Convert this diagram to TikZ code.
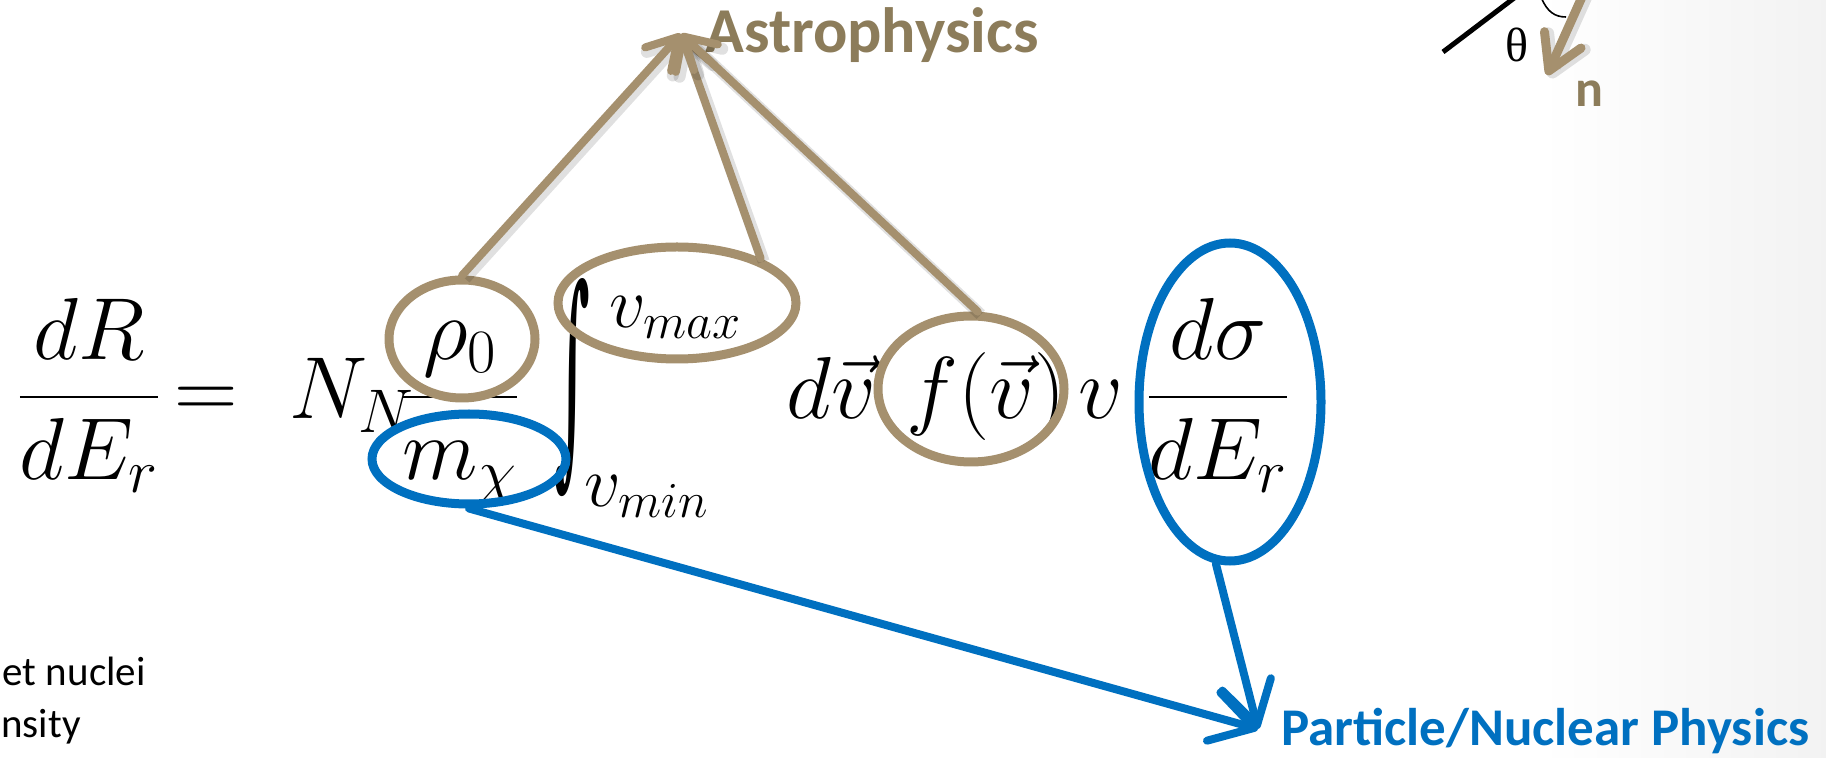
\documentclass[tikz,border=0pt]{standalone}
\usepackage{fix-cm}
\usepackage{exscale}
\usepackage{graphicx}
\usepackage{fontspec}
\usetikzlibrary{arrows.meta,shapes.geometric}
\newfontfamily\labelfont{Carlito}
\newfontfamily\greekfont{Liberation Serif}
\newfontfamily\intfont{DejaVu Serif}
\definecolor{tan2}{RGB}{165,144,110}
\definecolor{tantext}{RGB}{140,124,90}
\definecolor{blue2}{RGB}{0,112,192}
\newcommand{\eqsize}{\fontsize{44}{48}\selectfont}
\tikzset{
  eqnode/.style={inner sep=0pt, anchor=base, font=\eqsize},
  limitnode/.style={inner sep=0pt, anchor=base west, font=\fontsize{36}{40}\selectfont},
  tanring/.style={ellipse, draw=tan2, line width=4.5pt, inner sep=0pt},
  bluering/.style={ellipse, draw=blue2, line width=4.5pt, inner sep=0pt},
  softshadow/.style={preaction={draw=black, opacity=0.12, line width=6pt,
    transform canvas={shift={(1.5pt,-1.5pt)}}}},
  astroflow/.style={draw=tan2, line width=4pt, line cap=round, softshadow,
    -{Straight Barb[length=15pt,width=17.5pt,round]}},
  particleflow/.style={draw=blue2, line width=4pt, line cap=round,
    -{Straight Barb[length=21pt,width=25pt,round]}},
  fieldlabel/.style={inner sep=0pt, font=\labelfont\bfseries}
}

\begin{document}
\begin{tikzpicture}[x=0.5pt, y=-0.5pt]
\useasboundingbox (0,0) rectangle (1826,758);
\shade[left color=white, right color=black!5] (1540,0) rectangle (1826,758);

% the rate formula
\node[eqnode] (lhs) at (89,419) {$\displaystyle\frac{dR}{dE_r}$};
\node[eqnode] (eqsign) at (206,419) {$=$};
\node[eqnode, anchor=base west] (nn) at (289,419) {$N_N$};
\node[eqnode] (ratio) at (460,419) {$\displaystyle\frac{\rho_0}{m_\chi}$};
\node[eqnode, anchor=center] (integ) at (572,388) {\resizebox{18pt}{88pt}{\intfont ∫}};
\node[limitnode] (vmax) at (609,328) {$v_{max}$};
\node[limitnode] (vmin) at (584,507) {$v_{min}$};
\node[eqnode, anchor=base west] (dv) at (786,419) {$d\vec{v}$};
\node[eqnode, anchor=base west] (fv) at (906,419) {$f(\vec{v})$};
\node[eqnode, anchor=base west] (vel) at (1078,419) {$v$};
\node[eqnode] (dsig) at (1218,419) {$\displaystyle\frac{d\sigma}{dE_r}$};

% rings
\node[tanring, minimum width=73pt, minimum height=59pt] (rhoring) at (462,339) {};
\node[tanring, minimum width=119pt, minimum height=56pt] (vmaxring) at (677,303) {};
\node[tanring, minimum width=93pt, minimum height=73pt] (fvring) at (971,389) {};
\node[bluering, minimum width=97pt, minimum height=45pt] (mchiring) at (469,459) {};
\node[bluering, minimum width=91pt, minimum height=159pt] (dsigring) at (1230,402) {};

% labels
\node[fieldlabel, anchor=base west, text=tantext, font=\labelfont\bfseries\fontsize{32}{36}\selectfont]
  (astro) at (705,53) {Astrophysics};
\node[fieldlabel, anchor=base west, text=blue2, font=\labelfont\bfseries\fontsize{26.5}{30}\selectfont]
  (particle) at (1281,745) {Particle/Nuclear Physics};
\coordinate (astrotip) at (681,34);
\coordinate (particletip) at (1258,729);

\draw[astroflow] (rhoring.north) -- (astrotip);
\draw[astroflow] (vmaxring.28) -- (astrotip);
\draw[astroflow] (fvring.85) -- (astrotip);
\draw[particleflow] (mchiring.south) -- (particletip);
\draw[particleflow] (dsigring.265) -- (particletip);

% cut-off text on the left
\node[inner sep=0pt, anchor=base east, font=\labelfont\fontsize{20.5}{24}\selectfont]
  (nuclei) at (146,685) {et nuclei};
\node[inner sep=0pt, anchor=base west, font=\labelfont\fontsize{20.5}{24}\selectfont]
  (density) at (1,737) {nsity};

% angle sketch, top right
\draw[line width=2.5pt] (1443,52) -- (1530,-14);
\draw[line width=0.8pt] (1541,-3) .. controls (1547,12) and (1555,17) .. (1566,17);
\node[inner sep=0pt, font=\greekfont\fontsize{24}{28}\selectfont] (theta) at (1517,45) {θ};
\coordinate (ntail) at (1586,-12);
\coordinate (ntip) at (1547,75);
\draw[draw=tan2, line width=4.5pt, line cap=round, softshadow,
  -{Straight Barb[length=17pt,width=20pt,round]}] (ntail) -- (ntip);
\node[fieldlabel, anchor=base, text=tantext, font=\labelfont\bfseries\fontsize{26}{30}\selectfont]
  (nlabel) at (1589,107) {n};
\end{tikzpicture}
\end{document}
